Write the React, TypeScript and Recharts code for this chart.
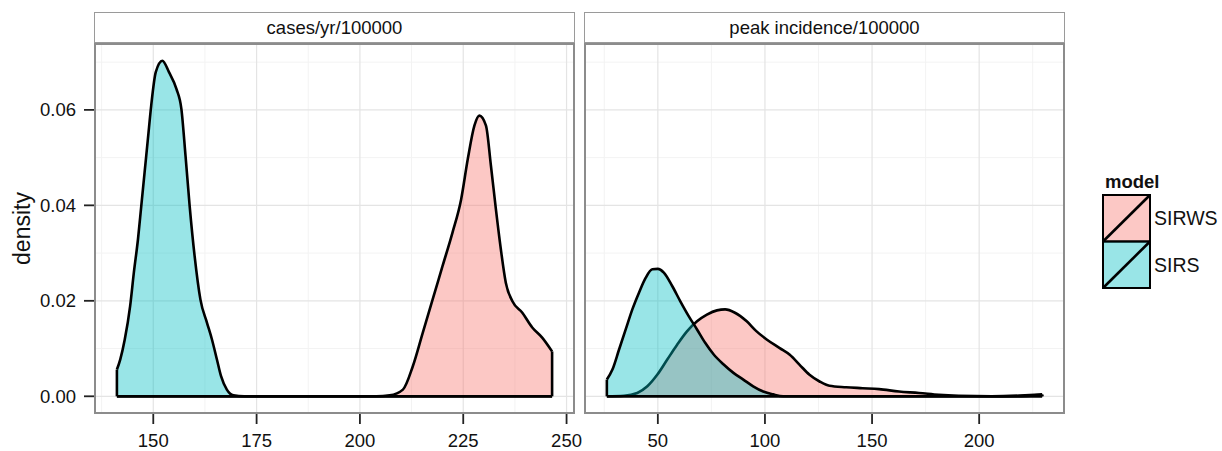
import React from 'react';
import { ComposedChart, Area, XAxis, YAxis, CartesianGrid, ReferenceLine } from 'recharts';

type Pt = [number, number];

const FONT = '"Liberation Sans", Arial, Helvetica, sans-serif';

const models = ['SIRWS', 'SIRS'];
const modelColors = ['#F8766D', '#00BFC4'];
const panelTitles = ['cases/yr/100000', 'peak incidence/100000'];

const densityTicks = [0, 0.02, 0.04, 0.06];
const densityMinor = [0.01, 0.03, 0.05, 0.07];
const densityDomain: [number, number] = [-0.0035, 0.0738];

const casesTicks = [150, 175, 200, 225, 250];
const casesMinor = [137.5, 162.5, 187.5, 212.5, 237.5];
const casesDomain: [number, number] = [135.9, 251.8];

const peakTicks = [50, 100, 150, 200];
const peakMinor = [25, 75, 125, 175, 225];
const peakDomain: [number, number] = [16.0, 239.6];

// [x, density]
const casesSIRS: Pt[] = [
  [141.2, 0.0056], [142.0, 0.0077], [143.1, 0.0119], [144.4, 0.0189], [145.3, 0.0259],
  [146.3, 0.0329], [147.1, 0.0399], [147.9, 0.0469], [148.7, 0.0539], [149.5, 0.0609],
  [150.6, 0.0679], [152.2, 0.0703], [153.8, 0.0679], [155.6, 0.0644], [156.8, 0.0602],
  [157.8, 0.0504], [158.8, 0.0399], [160.0, 0.0294], [161.4, 0.0203], [163.0, 0.0154],
  [164.2, 0.0119], [165.4, 0.0077], [166.4, 0.0042], [167.8, 0.0014], [169.4, 0.0002],
  [172.0, 0], [246.5, 0],
];

const casesSIRWS: Pt[] = [
  [141.2, 0], [204.0, 0], [207.2, 0.0002], [210.4, 0.0014], [212.8, 0.0063], [215.2, 0.0133],
  [217.6, 0.0203], [220.0, 0.0273], [222.4, 0.0343], [224.5, 0.0413], [226.1, 0.0497],
  [227.7, 0.0567], [228.9, 0.0588], [230.5, 0.0567], [231.7, 0.0483], [232.9, 0.0392],
  [234.1, 0.0308], [235.3, 0.0238], [236.9, 0.0199], [239.3, 0.0175], [241.7, 0.0144],
  [244.1, 0.0123], [246.5, 0.0094],
];

const peakSIRS: Pt[] = [
  [26.2, 0.0035], [28.8, 0.0056], [31.9, 0.0098], [35.0, 0.014], [38.1, 0.0182],
  [41.2, 0.0217], [44.3, 0.0248], [47.4, 0.0266], [50.0, 0.0267], [52.8, 0.0259],
  [56.7, 0.0231], [60.5, 0.0199], [64.4, 0.0168], [68.3, 0.014], [72.1, 0.0112],
  [76.0, 0.0088], [80.6, 0.0067], [85.3, 0.0049], [89.9, 0.0035], [94.5, 0.0021],
  [99.2, 0.001], [103.8, 0.0004], [108.5, 0], [215.0, 0], [229.4, 0.0003],
];

const peakSIRWS: Pt[] = [
  [26.2, 0], [34.2, 0.0001], [40.4, 0.0007], [45.1, 0.0021], [49.7, 0.0045],
  [54.4, 0.0077], [59.0, 0.0108], [63.6, 0.0136], [68.3, 0.0157], [72.9, 0.0171],
  [77.6, 0.018], [81.4, 0.0182], [86.0, 0.0175], [91.5, 0.0157], [96.1, 0.0136],
  [100.8, 0.0119], [106.9, 0.0101], [111.6, 0.0087], [116.2, 0.0066], [120.8, 0.0045],
  [125.5, 0.0031], [130.1, 0.0022], [137.9, 0.0019], [145.6, 0.0017], [153.3, 0.0015],
  [162.6, 0.001], [171.9, 0.0007], [181.2, 0.0003], [190.4, 0.0001], [205.8, 0],
  [221.4, 0.0002], [229.4, 0.0004],
];

function mergeSeries(sirws: Pt[], sirs: Pt[]) {
  const a = new Map(sirws);
  const b = new Map(sirs);
  const xs = Array.from(new Set([...a.keys(), ...b.keys()])).sort((p, q) => p - q);
  return xs.map((x) => ({ x, SIRWS: a.get(x) ?? null, SIRS: b.get(x) ?? null }));
}

// vertical ends of each density polygon (ggplot strokes the whole outline)
function edgeSegments(series: Pt[]) {
  const out: Pt[] = [];
  const first = series[0];
  const last = series[series.length - 1];
  if (first[1] > 0) out.push(first);
  if (last[1] > 0) out.push(last);
  return out;
}

const tickStyle = { fontSize: 18.5, fill: '#111', fontFamily: FONT };
const OUTLINE = 2.6;

interface PanelProps {
  left: number;
  width: number;
  marginRight: number;
  title: string;
  sirs: Pt[];
  sirws: Pt[];
  ticks: number[];
  minor: number[];
  domain: [number, number];
  showY: boolean;
}

function Panel({ left, width, marginRight, title, sirs, sirws, ticks, minor, domain, showY }: PanelProps) {
  const rows = mergeSeries(sirws, sirs);
  const xs = rows.map((r) => r.x);
  const xMin = Math.min(...xs);
  const xMax = Math.max(...xs);
  const edges = [...edgeSegments(sirws), ...edgeSegments(sirs)];
  const plotLeft = left + (showY ? 95 : 0);
  const plotW = width - marginRight - (showY ? 95 : 0);

  return (
    <>
      <div
        style={{
          position: 'absolute', left: plotLeft - 1, top: 12, width: plotW + 2, height: 32,
          boxSizing: 'border-box', border: '1px solid #9a9a9a', borderBottomWidth: 2,
          background: '#fff', fontFamily: FONT, fontSize: 18.5, color: '#111',
          display: 'flex', alignItems: 'center', justifyContent: 'center',
        }}
      >
        {title}
      </div>
      <div style={{ position: 'absolute', left, top: 0 }}>
        <ComposedChart
          width={width}
          height={451}
          data={rows}
          margin={{ top: 44, right: marginRight, bottom: 0, left: 0 }}
        >
          <XAxis xAxisId="minor" dataKey="x" type="number" domain={domain} ticks={minor} allowDataOverflow hide />
          <YAxis yAxisId="minor" type="number" domain={densityDomain} ticks={densityMinor} allowDataOverflow hide />
          <CartesianGrid xAxisId="minor" yAxisId="minor" stroke="#f3f3f3" strokeWidth={1} />
          <CartesianGrid stroke="#e4e4e4" strokeWidth={1.2} />
          <XAxis
            dataKey="x"
            type="number"
            domain={domain}
            ticks={ticks}
            allowDataOverflow
            height={38}
            tickSize={11}
            tickMargin={10}
            axisLine={false}
            tickLine={{ stroke: '#222', strokeWidth: 1.8 }}
            tick={tickStyle}
          />
          <YAxis
            type="number"
            domain={densityDomain}
            ticks={densityTicks}
            allowDataOverflow
            hide={!showY}
            width={95}
            tickSize={11}
            tickMargin={8}
            axisLine={false}
            tickLine={{ stroke: '#222', strokeWidth: 1.8 }}
            tick={tickStyle}
            tickFormatter={(v: number) => v.toFixed(2)}
            label={{
              content: ({ viewBox }: any) => {
                const cy = viewBox.y + viewBox.height / 2;
                return (
                  <text
                    x={22}
                    y={cy}
                    transform={`rotate(-90, 22, ${cy})`}
                    textAnchor="middle"
                    dominantBaseline="central"
                    style={{ fontSize: 23, fontFamily: FONT, fill: '#111' }}
                  >
                    density
                  </text>
                );
              },
            }}
          />
          <Area
            dataKey="SIRWS"
            type="monotone"
            baseValue={0}
            connectNulls
            fill={modelColors[0]}
            fillOpacity={0.4}
            stroke="#000"
            strokeWidth={OUTLINE}
            dot={false}
            activeDot={false}
            isAnimationActive={false}
          />
          <Area
            dataKey="SIRS"
            type="monotone"
            baseValue={0}
            connectNulls
            fill={modelColors[1]}
            fillOpacity={0.4}
            stroke="#000"
            strokeWidth={OUTLINE}
            dot={false}
            activeDot={false}
            isAnimationActive={false}
          />
          {edges.map(([x, y], i) => (
            <ReferenceLine
              key={i}
              segment={[{ x, y: 0 }, { x, y }]}
              stroke="#000"
              strokeWidth={OUTLINE}
            />
          ))}
          <ReferenceLine segment={[{ x: xMin, y: 0 }, { x: xMax, y: 0 }]} stroke="#000" strokeWidth={2.8} />
        </ComposedChart>
      </div>
      <div
        style={{
          position: 'absolute', left: plotLeft - 1, top: 43, width: plotW + 2, height: 371,
          boxSizing: 'border-box', border: '2px solid #8c8c8c', pointerEvents: 'none',
        }}
      />
    </>
  );
}

function ModelLegend() {
  return (
    <svg width={122} height={140} style={{ position: 'absolute', left: 1100, top: 160 }}>
      <text x={5} y={28} style={{ fontSize: 18.5, fontWeight: 'bold', fontFamily: FONT, fill: '#111' }}>
        model
      </text>
      {models.map((m, i) => {
        const y0 = 35 + i * 46.5;
        return (
          <g key={m}>
            <rect x={3} y={y0} width={47} height={46.5} fill={modelColors[i]} fillOpacity={0.4} stroke="#000" strokeWidth={2} />
            <line x1={3} y1={y0 + 46.5} x2={50} y2={y0} stroke="#000" strokeWidth={2.6} />
            <text x={54} y={y0 + 30} style={{ fontSize: 19.5, fontFamily: FONT, fill: '#111' }}>
              {m}
            </text>
          </g>
        );
      })}
    </svg>
  );
}

export default function App() {
  return (
    <div style={{ position: 'absolute', left: 0, top: 0, width: 1222, height: 451, background: '#fff', overflow: 'hidden' }}>
      <Panel
        left={0}
        width={600}
        marginRight={26}
        title={panelTitles[0]}
        sirs={casesSIRS}
        sirws={casesSIRWS}
        ticks={casesTicks}
        minor={casesMinor}
        domain={casesDomain}
        showY
      />
      <Panel
        left={585}
        width={500}
        marginRight={21}
        title={panelTitles[1]}
        sirs={peakSIRS}
        sirws={peakSIRWS}
        ticks={peakTicks}
        minor={peakMinor}
        domain={peakDomain}
        showY={false}
      />
      <ModelLegend />
    </div>
  );
}
